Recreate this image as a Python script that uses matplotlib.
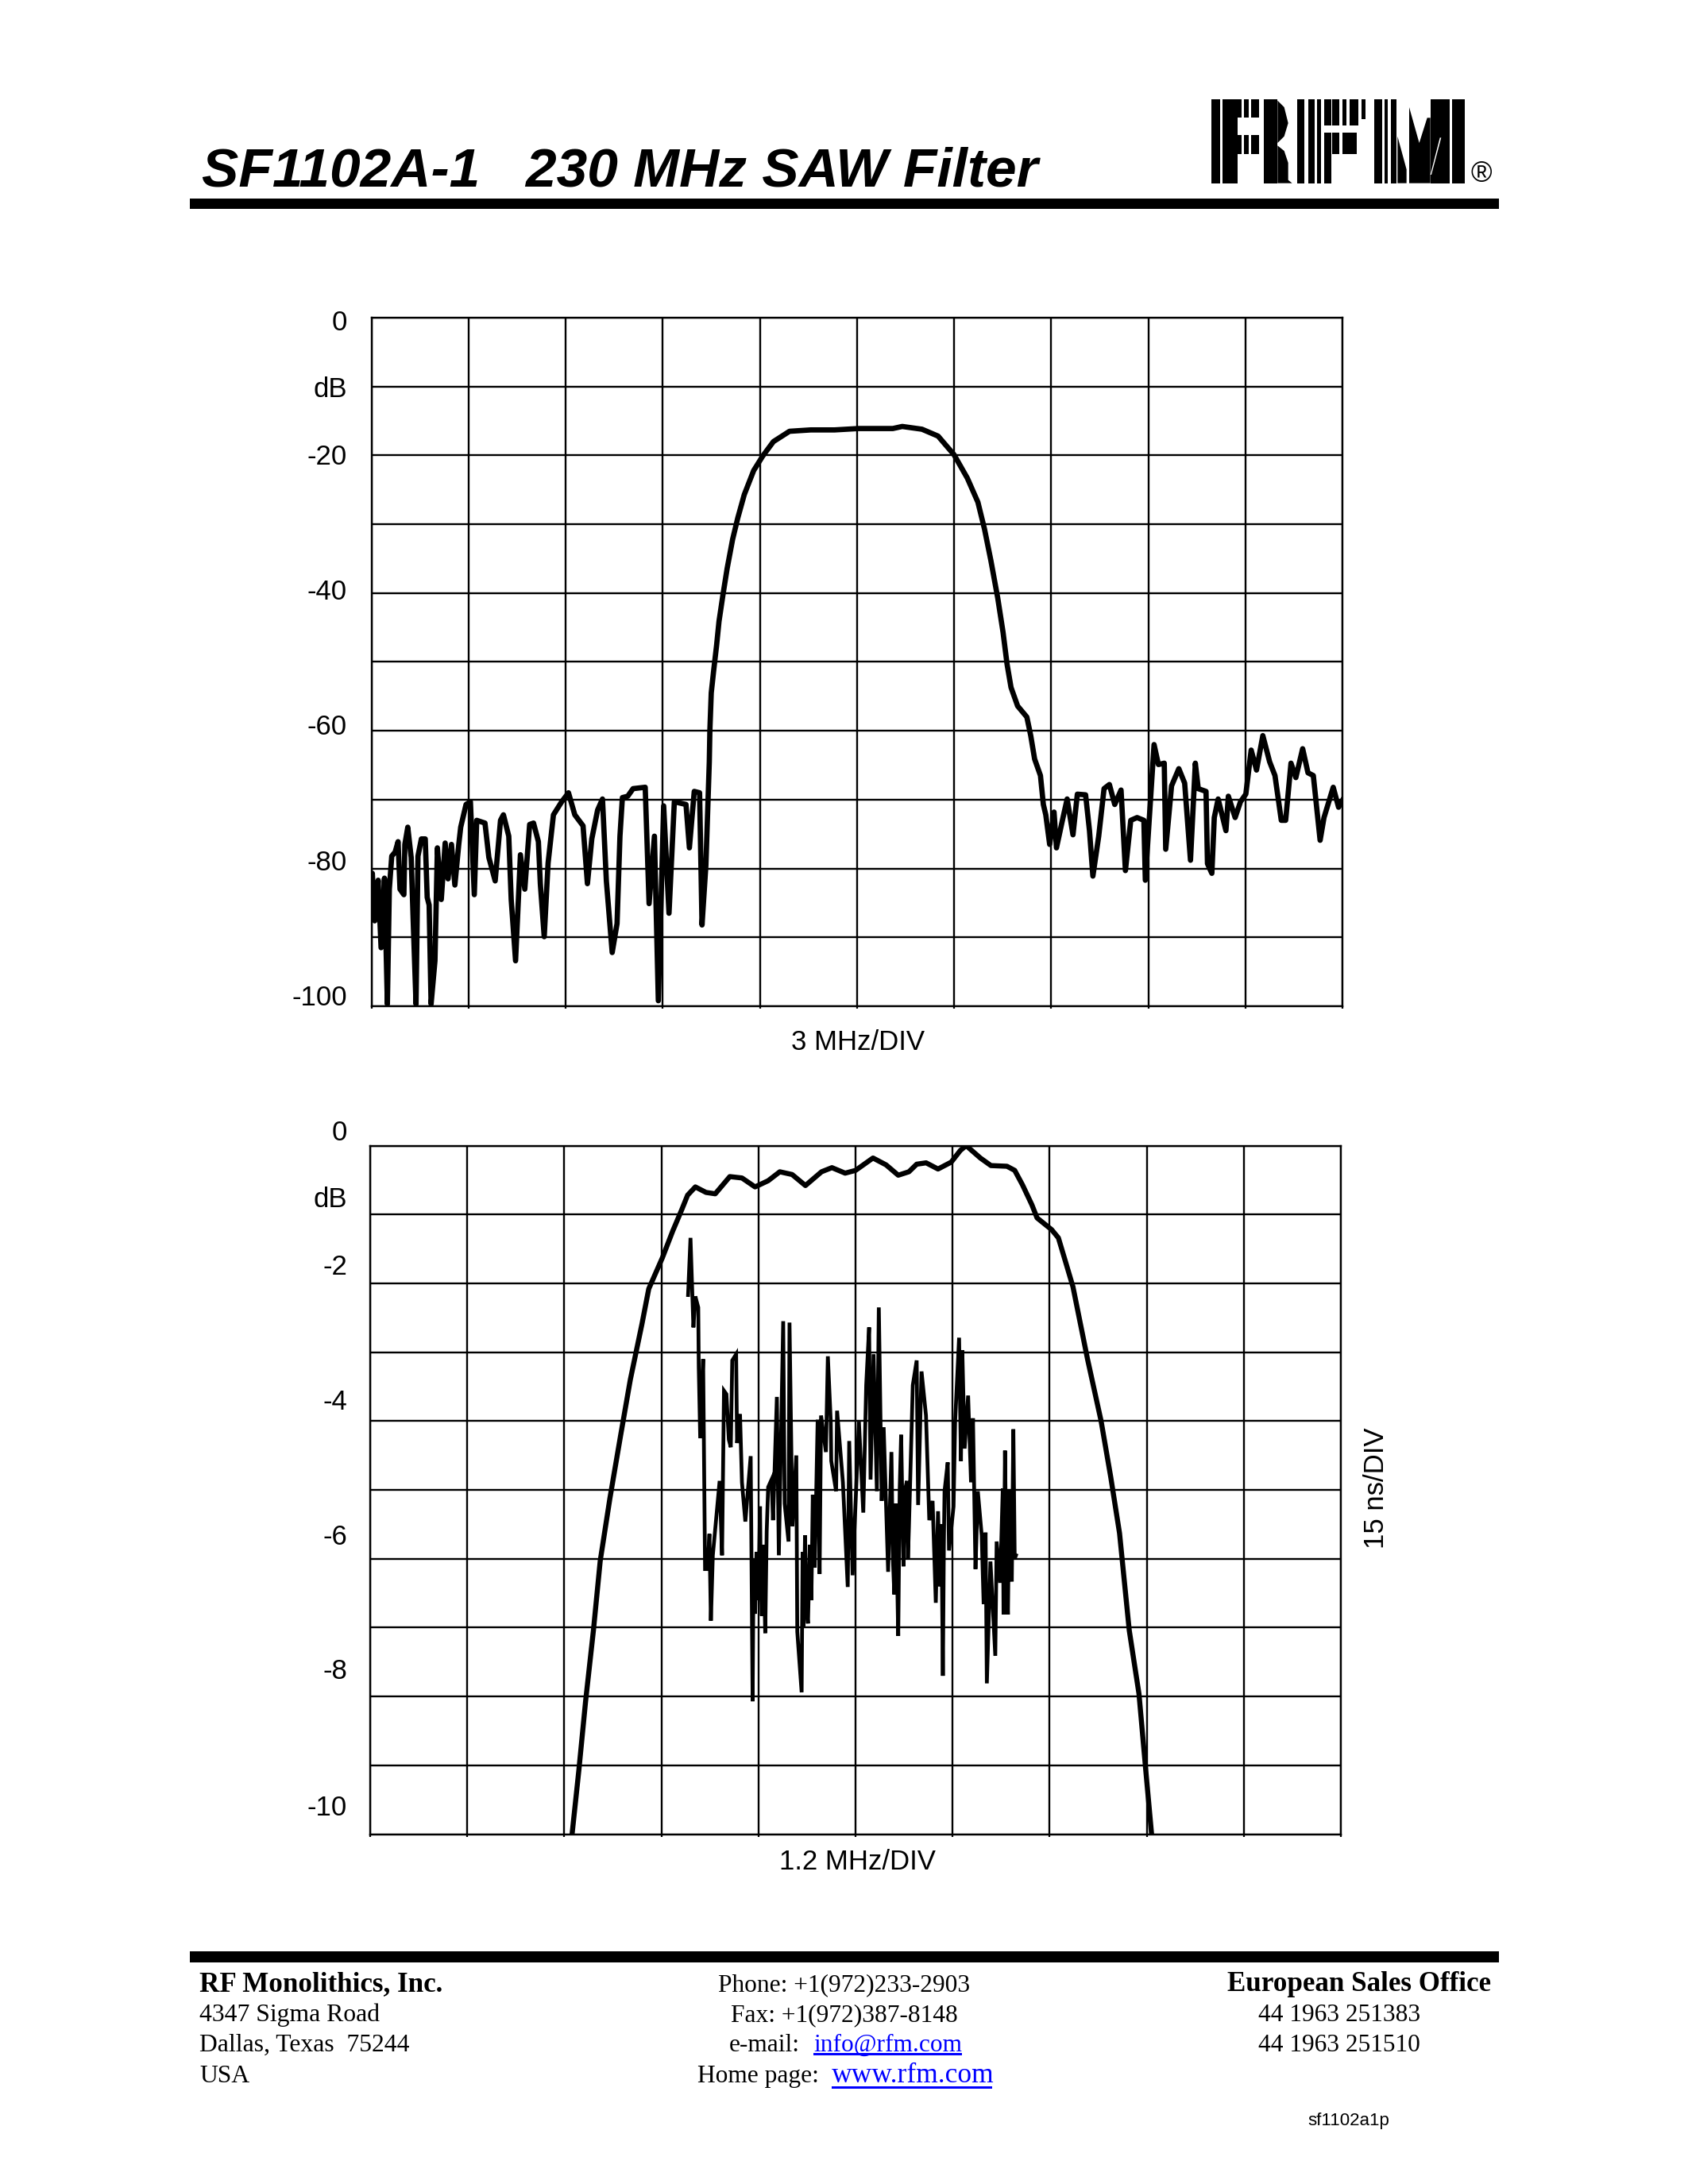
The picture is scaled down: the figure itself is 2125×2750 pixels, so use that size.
"""SF1102A-1 datasheet page: frequency response and delay of a 230 MHz SAW filter."""
import matplotlib
matplotlib.use("Agg")
import matplotlib.pyplot as plt
from matplotlib.patches import Polygon, Rectangle

W, H = 2125, 2750

# ── values ────────────────────────────────────────────────
# x is in divisions (0..10), wide plot y in dB
wide_x = [0.00, 0.01, 0.035, 0.07, 0.10, 0.135, 0.165, 0.185, 0.21, 0.245, 0.275, 0.295, 0.335, 0.345,
          0.375, 0.41, 0.43, 0.46, 0.48, 0.515, 0.555, 0.575, 0.595, 0.615, 0.655, 0.68, 0.72, 0.76,
          0.79, 0.825, 0.86, 0.90, 0.92, 0.975, 1.02, 1.06, 1.085, 1.17, 1.21, 1.275, 1.33, 1.36,
          1.415, 1.44, 1.485, 1.535, 1.58, 1.63, 1.67, 1.72, 1.74, 1.78, 1.82, 1.875, 1.96, 2.03,
          2.095, 2.18, 2.225, 2.27, 2.33, 2.38, 2.42, 2.48, 2.53, 2.56, 2.585, 2.64, 2.695, 2.82,
          2.86, 2.915, 2.955, 3.01, 3.065, 3.12, 3.24, 3.275, 3.325, 3.38, 3.405, 3.445, 3.48,
          3.486, 3.50, 3.527, 3.555, 3.58, 3.62, 3.664, 3.72, 3.773, 3.84, 3.937, 4.03, 4.14, 4.306,
          4.525, 4.77, 5.016, 5.37, 5.467, 5.67, 5.836, 6.0, 6.137, 6.246, 6.314, 6.38, 6.45, 6.505,
          6.546, 6.587, 6.655, 6.75, 6.79, 6.83, 6.89, 6.92, 6.945, 6.985, 7.03, 7.055, 7.11, 7.165,
          7.225, 7.27, 7.355, 7.395, 7.43, 7.49, 7.545, 7.60, 7.655, 7.72, 7.765, 7.82, 7.885, 7.955,
          7.97, 8.02, 8.06, 8.105, 8.165, 8.18, 8.24, 8.315, 8.375, 8.435, 8.485, 8.515, 8.595, 8.61,
          8.655, 8.68, 8.72, 8.80, 8.825, 8.895, 8.95, 9.005, 9.06, 9.115, 9.18, 9.25, 9.305, 9.37,
          9.415, 9.47, 9.52, 9.59, 9.645, 9.70, 9.77, 9.81, 9.905, 9.96, 10.0]
wide_db = [-86.1, -80.7, -87.6, -81.7, -91.5, -81.4, -99.7, -83.0, -78.2, -77.6, -76.1, -83.0, -83.8, -76.5,
           -74.0, -78.4, -87.2, -99.7, -78.2, -75.7, -75.7, -84.2, -85.3, -99.7, -93.4, -77.0, -84.5, -76.3,
           -81.5, -76.5, -82.4, -76.5, -74.0, -70.7, -70.3, -83.8, -73.0, -73.4, -78.4, -81.8, -73.0, -72.2,
           -75.3, -84.5, -93.4, -78.0, -83.0, -73.6, -73.4, -76.1, -82.2, -89.9, -79.2, -72.2, -70.3, -69.0,
           -72.2, -73.8, -82.2, -75.7, -71.5, -69.9, -81.8, -92.2, -88.0, -75.3, -69.7, -69.5, -68.4, -68.2,
           -85.1, -75.3, -99.2, -70.9, -86.5, -70.3, -70.7, -77.0, -68.8, -69.0, -88.2, -79.5, -64.5,
           -59.9, -54.5, -51.0, -47.6, -44.1, -40.3, -36.4, -32.2, -29.1, -25.7, -22.2, -20.1, -18.0, -16.5,
           -16.3, -16.3, -16.1, -16.1, -15.8, -16.2, -17.2, -19.9, -23.3, -26.8, -30.7, -35.3, -40.7, -45.7,
           -50.3, -53.7, -56.4, -58.0, -60.7, -64.1, -66.5, -70.7, -72.2, -76.5, -71.8, -77.0, -73.4, -69.9,
           -75.1, -69.2, -69.3, -74.5, -81.1, -75.3, -68.4, -67.8, -70.7, -68.6, -80.3, -73.0, -72.6, -73.0,
           -81.7, -70.7, -62.0, -64.9, -64.7, -77.2, -68.0, -65.5, -67.6, -78.8, -64.7, -68.4, -68.8, -79.3,
           -80.7, -72.6, -69.9, -74.5, -69.5, -72.6, -70.3, -69.2, -62.8, -65.7, -60.7, -64.5, -66.5, -73.0,
           -73.0, -64.7, -66.8, -62.6, -66.1, -66.5, -75.9, -72.6, -68.2, -71.1, -70.1]

# narrow plot, amplitude in dB
narrow_x = [2.08, 2.15, 2.22, 2.30, 2.37, 2.47, 2.58, 2.68, 2.80, 2.87, 3.01, 3.117, 3.21, 3.27, 3.35, 3.46,
            3.555, 3.705, 3.83, 3.965, 4.10, 4.22, 4.347, 4.484, 4.65, 4.757, 4.893, 5.0, 5.18, 5.315,
            5.44, 5.55, 5.63, 5.727, 5.85, 5.986, 6.08, 6.14, 6.286, 6.395, 6.56, 6.64, 6.72, 6.817, 6.87,
            7.02, 7.09, 7.16, 7.24, 7.39, 7.53, 7.63, 7.72, 7.82, 7.92, 7.99, 8.05]
narrow_db = [-10.0, -9.07, -8.06, -7.04, -6.03, -5.12, -4.21, -3.4, -2.59, -2.08, -1.63, -1.24, -0.93, -0.72, -0.6, -0.68,
             -0.70, -0.45, -0.47, -0.6, -0.51, -0.38, -0.42, -0.58, -0.38, -0.32, -0.40, -0.36, -0.18, -0.28,
             -0.43, -0.38, -0.27, -0.25, -0.34, -0.24, -0.07, 0.0, -0.18, -0.29, -0.30, -0.36, -0.57, -0.86, -1.05,
             -1.22, -1.34, -1.67, -2.05, -3.1, -4.0, -4.82, -5.63, -7.04, -7.96, -9.07, -10.0]

# delay trace, y in grid lines below the top (15 ns/DIV), given on the same -10..0 scale
delay_x = [3.275, 3.30, 3.33, 3.35, 3.38, 3.385, 3.40, 3.43, 3.45, 3.475, 3.495, 3.51, 3.53, 3.60, 3.625, 3.645,
           3.67, 3.695, 3.715, 3.73, 3.77, 3.78, 3.81, 3.83, 3.865, 3.92, 3.94, 3.95, 3.965, 3.98, 4.0, 4.016,
           4.025, 4.035, 4.05, 4.07, 4.085, 4.10,
           4.135, 4.15, 4.19, 4.21, 4.255, 4.27, 4.31, 4.32, 4.35, 4.39, 4.40, 4.445, 4.455, 4.465, 4.48, 4.495,
           4.51, 4.53, 4.545, 4.56, 4.58,
           4.61, 4.63, 4.645, 4.695, 4.715, 4.745, 4.75, 4.80, 4.81, 4.87, 4.92, 4.935, 4.97, 5.035, 5.08, 5.11,
           5.14, 5.155, 5.186, 5.22, 5.24, 5.27, 5.29, 5.336, 5.37, 5.385, 5.40, 5.415, 5.44, 5.455, 5.47, 5.494,
           5.51, 5.53, 5.54, 5.55, 5.59,
           5.63, 5.645, 5.68, 5.726, 5.76, 5.794, 5.827, 5.85, 5.87, 5.885, 5.90, 5.91, 5.917, 5.95, 5.963, 6.01,
           6.026, 6.067,
           6.086, 6.10, 6.124, 6.16, 6.19, 6.21, 6.236, 6.26, 6.30, 6.32, 6.34, 6.353, 6.39, 6.44, 6.454, 6.49,
           6.517, 6.525, 6.54, 6.555, 6.57, 6.585, 6.60, 6.61, 6.626, 6.64, 6.653]
delay_div = [-2.17, -1.34, -2.64, -2.19, -2.35, -3.21, -4.25, -3.10, -6.15, -6.15, -5.64, -6.9, -5.95, -4.87, -5.95, -3.56,
             -3.61, -4.27, -4.38, -3.12, -3.03, -4.32, -3.90, -4.89, -5.46, -4.51, -8.07, -6.0, -6.8, -5.9, -6.6, -5.24,
             -6.4, -6.83, -5.8, -7.08, -5.6, -4.96,
             -4.85, -5.44, -3.65, -5.95, -2.55, -5.2, -5.75, -2.57, -5.53, -4.5, -7.06, -7.94, -5.9, -7.0, -5.66, -6.7,
             -6.94, -5.8, -6.6, -5.07, -6.13,
             -3.98, -6.22, -3.92, -4.45, -3.06, -4.01, -4.58, -5.02, -3.85, -4.89, -6.41, -4.29, -6.24, -4.01, -5.33, -3.48,
             -2.64, -4.85, -3.03, -5.02, -2.35, -5.16, -4.09, -6.19, -4.45, -6.0, -6.52, -5.2, -7.12, -5.0, -4.2, -6.11,
             -5.0, -4.87, -6.0, -5.55, -3.48,
             -3.12, -5.22, -3.28, -3.92, -5.44, -5.16, -6.64, -5.31, -6.4, -5.5, -7.7, -5.8, -5.02, -4.6, -5.88, -5.24,
             -4.01, -2.79,
             -4.58, -2.97, -4.4, -3.63, -4.89, -3.96, -6.15, -5.02, -5.66, -6.66, -5.62, -7.81, -6.04, -7.41, -5.75, -6.35,
             -4.98, -6.81, -4.43, -6.2, -6.81, -5.0, -6.0, -6.33, -4.12, -6.0, -5.95]

wide_labels = ["0", "dB", "-20", "-40", "-60", "-80", "-100"]
wide_label_y = [406, 490, 575, 745, 915, 1086, 1256]
narrow_labels = ["0", "dB", "-2", "-4", "-6", "-8", "-10"]
narrow_label_y = [1426, 1510, 1595, 1765, 1935, 2105, 2276]

fig = plt.figure(figsize=(W / 100, H / 100), dpi=100, facecolor="white")


def plot_axes(left, right, top, bottom, ymin):
    ax = fig.add_axes([left / W, 1 - bottom / H, (right - left) / W, (bottom - top) / H])
    ax.set_xlim(0, 10)
    ax.set_ylim(ymin, 0)
    ax.set_xticks(range(11))
    ax.set_yticks([ymin * i / 10 for i in range(11)])
    ax.tick_params(length=2.5, width=1.6, labelbottom=False, labelleft=False, left=False)
    ax.grid(True, color="black", lw=1.7)
    ax.set_axisbelow(True)
    for s in ax.spines.values():
        s.set_linewidth(1.7)
    return ax


ax1 = plot_axes(467.5, 1690, 400, 1267, -100)
ax1.plot(wide_x, wide_db, color="black", lw=4.8, solid_joinstyle="round")

ax2 = plot_axes(466, 1688, 1442.5, 2309.5, -10)
ax2.plot(narrow_x, narrow_db, color="black", lw=4.6, solid_joinstyle="round")
ax2.plot(delay_x, delay_div, color="black", lw=3.4, solid_joinstyle="miter")

# ── page furniture, in pixels ─────────────────────────────
page = fig.add_axes([0, 0, 1, 1], facecolor="none")
page.set_xlim(0, W)
page.set_ylim(H, 0)
page.axis("off")

SANS = "Liberation Sans"
SERIF = "Liberation Serif"
page.text(254, 234, "SF1102A-1   230 MHz SAW Filter", family=SANS, weight="bold", style="italic",
          fontsize=50, va="baseline")
page.add_patch(Rectangle((239, 250), 1648, 13, color="black", lw=0))
page.add_patch(Rectangle((239, 2457), 1648, 14, color="black", lw=0))

for txt, y in zip(wide_labels, wide_label_y):
    page.text(437, y, txt, family=SANS, fontsize=25, ha="right", va="center")
for txt, y in zip(narrow_labels, narrow_label_y):
    page.text(437, y, txt, family=SANS, fontsize=25, ha="right", va="center")
page.text(1080, 1312, "3 MHz/DIV", family=SANS, fontsize=25, ha="center", va="center")
page.text(1079, 2345, "1.2 MHz/DIV", family=SANS, fontsize=25, ha="center", va="center")
page.text(1733, 1874, "15 ns/DIV", family=SANS, fontsize=25, rotation=90, ha="center", va="center")

# RFM logo, built from the stripes seen on the page (coordinates in a 3x crop)
def lx(v):
    return 1510 + v / 3


def ly(v):
    return 115 + v / 3


stripes = [(45, 78, 30, 347), (88, 145, 30, 347), (145, 158, 30, 100), (168, 185, 30, 100), (195, 225, 30, 100),
           (145, 158, 165, 237), (168, 185, 165, 237), (195, 225, 165, 237), (243, 295, 30, 347),
           (368, 395, 30, 347), (410, 435, 30, 347), (445, 460, 30, 347), (472, 497, 30, 130), (472, 497, 155, 347),
           (502, 528, 30, 130), (540, 555, 30, 130), (568, 600, 30, 130), (612, 628, 30, 105),
           (502, 528, 155, 237), (540, 595, 155, 237),
           (660, 690, 30, 347), (700, 712, 30, 347), (722, 745, 30, 347), (872, 945, 30, 347), (955, 1002, 30, 347)]
for x0, x1, y0, y1 in stripes:
    page.add_patch(Rectangle((lx(x0), ly(y0)), (x1 - x0) / 3, (y1 - y0) / 3, color="black", lw=0))
logo_shapes = [[(295, 35), (320, 60), (335, 120), (320, 170), (295, 195)],
               [(295, 205), (320, 225), (335, 270), (335, 335), (350, 347), (295, 347)],
               [(748, 170), (782, 295), (782, 347), (748, 347)],
               [(792, 60), (830, 195), (860, 100), (872, 100), (872, 347), (792, 347)]]
for pts in logo_shapes:
    page.add_patch(Polygon([(lx(a), ly(b)) for a, b in pts], color="black", lw=0))
page.add_patch(Polygon([(lx(a), ly(b)) for a, b in [(908, 175), (913, 175), (876, 315), (872, 315)]],
                       color="white", lw=0))
page.text(1865, 219, "®", family=SANS, fontsize=26, ha="center", va="center")

# footer
page.text(251, 2507, "RF Monolithics, Inc.", family=SERIF, weight="bold", fontsize=25.2)
for txt, y in [("4347 Sigma Road", 2545), ("Dallas, Texas  75244", 2583), ("USA", 2622)]:
    page.text(251, y, txt, family=SERIF, fontsize=22.8)
page.text(1063, 2507, "Phone: +1(972)233-2903", family=SERIF, fontsize=22.6, ha="center")
page.text(1063, 2545, "Fax: +1(972)387-8148", family=SERIF, fontsize=22.6, ha="center")
page.text(1007, 2583, "e-mail:", family=SERIF, fontsize=22.6, ha="right")
page.text(1024, 2583, "info@rfm.com", family=SERIF, fontsize=22.6, color="#0000ff")
page.add_patch(Rectangle((1024, 2585), 187, 3, color="#0000ff", lw=0))
page.text(1031, 2622, "Home page:", family=SERIF, fontsize=22.6, ha="right")
page.text(1047, 2622, "www.rfm.com", family=SERIF, fontsize=25.5, color="#0000ff")
page.add_patch(Rectangle((1047, 2627), 202, 3, color="#0000ff", lw=0))
page.text(1877, 2507, "European Sales Office", family=SERIF, weight="bold", fontsize=25.2, ha="right")
page.text(1686, 2545, "44 1963 251383", family=SERIF, fontsize=22.6, ha="center")
page.text(1686, 2583, "44 1963 251510", family=SERIF, fontsize=22.6, ha="center")
page.text(1646, 2676, "sf1102a1p", family=SANS, fontsize=16)

fig.savefig("out.png", dpi=100)
